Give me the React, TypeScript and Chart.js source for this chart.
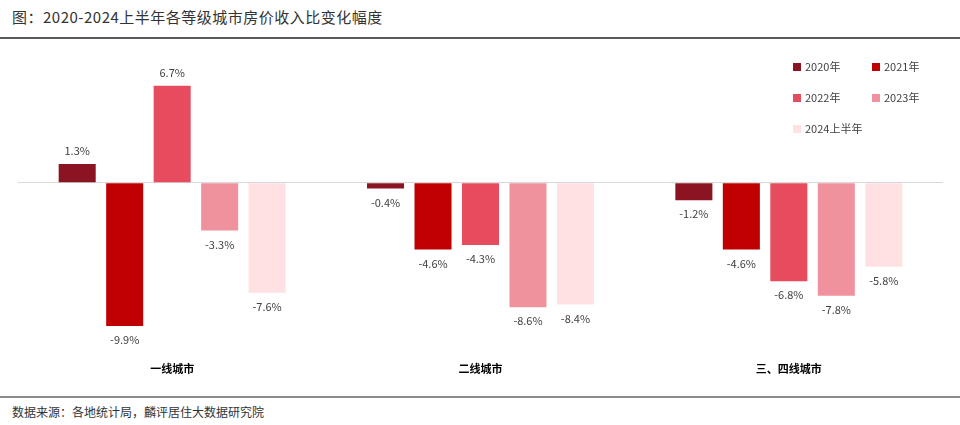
import React, { useEffect, useRef } from "react";
import { Chart, registerables } from "chart.js";

Chart.register(...registerables);

const categories = ["一线城市", "二线城市", "三、四线城市"];
const seriesNames = ["2020年", "2021年", "2022年", "2023年", "2024上半年"];
const seriesColors = ["#8B1423", "#C00000", "#E64C5E", "#F0929E", "#FFE1E3"];
const v2020 = [1.3, -0.4, -1.2];
const v2021 = [-9.9, -4.6, -4.6];
const v2022 = [6.7, -4.3, -6.8];
const v2023 = [-3.3, -8.6, -7.8];
const v2024 = [-7.6, -8.4, -5.8];
const seriesValues = [v2020, v2021, v2022, v2023, v2024];

const FONT = "'Noto Sans CJK SC', 'Noto Sans', sans-serif";

const valueLabels = {
  id: "valueLabels",
  afterDatasetsDraw(chart: any) {
    const ctx = chart.ctx;
    ctx.save();
    ctx.font = `11px ${FONT}`;
    ctx.fillStyle = "#404040";
    ctx.textAlign = "center";
    ctx.textBaseline = "middle";
    chart.data.datasets.forEach((ds: any, i: number) => {
      const meta = chart.getDatasetMeta(i);
      meta.data.forEach((bar: any, j: number) => {
        const v = ds.data[j];
        const y = v >= 0 ? bar.y - 13 : bar.y + 14;
        ctx.fillText(v.toFixed(1) + "%", bar.x, y);
      });
    });
    ctx.restore();
  },
};

const customLegend = {
  id: "customLegend",
  afterDraw(chart: any) {
    const ctx = chart.ctx;
    ctx.save();
    ctx.font = `11px ${FONT}`;
    ctx.textBaseline = "middle";
    ctx.textAlign = "left";
    const cols = [793, 872];
    const rows = [27, 58, 89];
    chart.data.datasets.forEach((ds: any, i: number) => {
      const x = cols[i % 2];
      const y = rows[Math.floor(i / 2)];
      ctx.fillStyle = ds.backgroundColor;
      ctx.fillRect(x, y - 4, 8, 8);
      ctx.fillStyle = "#404040";
      ctx.fillText(ds.label, x + 12, y);
    });
    ctx.restore();
  },
};

export default function App() {
  const ref = useRef<HTMLCanvasElement>(null);
  useEffect(() => {
    if (!ref.current) return;
    const chart = new Chart(ref.current, {
      type: "bar",
      data: {
        labels: categories,
        datasets: seriesNames.map((name, i) => ({
          label: name,
          data: seriesValues[i],
          backgroundColor: seriesColors[i],
          borderWidth: 0,
          categoryPercentage: 0.77,
          barPercentage: 0.78,
        })),
      },
      plugins: [valueLabels, customLegend],
      options: {
        animation: false,
        responsive: false,
        maintainAspectRatio: false,
        layout: { padding: { left: 18, right: 17, top: 27, bottom: 14 } },
        plugins: {
          legend: { display: false },
          tooltip: { enabled: false },
          title: { display: false },
        },
        scales: {
          x: {
            grid: { display: false },
            border: { display: false },
            ticks: {
              color: "#000",
              padding: 6,
              font: { family: FONT, size: 11, weight: "bold" },
            },
          },
          y: {
            min: -11.4,
            max: 8,
            afterBuildTicks: (axis: any) => {
              axis.ticks = [{ value: 0 }];
            },
            ticks: { display: false },
            border: { display: false },
            grid: {
              drawTicks: false,
              color: "#D9D9D9",
              lineWidth: 1,
            },
          },
        },
      },
    });
    return () => chart.destroy();
  }, []);

  return (
    <div style={{ position: "fixed", left: 0, top: 0, width: 960, height: 425, background: "#fff", fontFamily: FONT }}>
      <div style={{ position: "absolute", left: 12, top: 6, fontSize: 15, color: "#333", letterSpacing: 0.5 }}>
        图：2020-2024上半年各等级城市房价收入比变化幅度
      </div>
      <div style={{ position: "absolute", left: 0, top: 37, width: 960, height: 2, background: "#595959" }} />
      <canvas ref={ref} width={960} height={355} style={{ position: "absolute", left: 0, top: 40, width: 960, height: 355 }} />
      <div style={{ position: "absolute", left: 0, top: 396, width: 960, height: 2, background: "#8c8c8c" }} />
      <div style={{ position: "absolute", left: 12, top: 403, fontSize: 12, color: "#333" }}>
        数据来源：各地统计局，麟评居住大数据研究院
      </div>
    </div>
  );
}
